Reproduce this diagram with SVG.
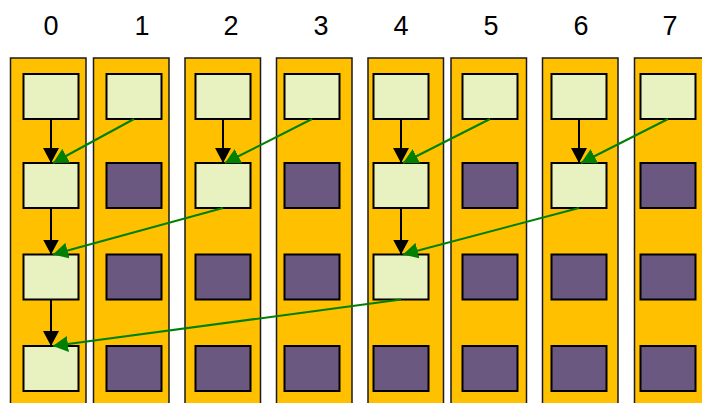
<svg xmlns="http://www.w3.org/2000/svg" width="702" height="403" viewBox="0 0 702 403">
  <style>
    .lane { fill: #FFC000; stroke: #1a1a1a; stroke-width: 1.5; }
    .active { fill: #E8F2C0; stroke: #000; stroke-width: 2; }
    .idle { fill: #6B5880; stroke: #000; stroke-width: 2; }
    .idx { font-family: "Liberation Sans", Arial, sans-serif; font-size: 27px; fill: #000; text-anchor: middle; }
    .seq { stroke: #000; stroke-width: 2; fill: none; }
    .red { stroke: #008000; stroke-width: 2; fill: none; }
  </style>
  <defs>
    <marker id="headBlack" markerUnits="userSpaceOnUse" markerWidth="16" markerHeight="16" viewBox="0 0 16 16" refX="15" refY="8" orient="auto">
      <path d="M0,0 L15,8 L0,16 Z" fill="#000"/>
    </marker>
    <marker id="headGreen" markerUnits="userSpaceOnUse" markerWidth="16" markerHeight="16" viewBox="0 0 16 16" refX="15" refY="8" orient="auto">
      <path d="M0,0 L15,8 L0,16 Z" fill="#008000"/>
    </marker>
  </defs>

  <!-- lane indices -->
  <g id="labels">
    <text class="idx" x="51" y="35">0</text>
    <text class="idx" x="142" y="35">1</text>
    <text class="idx" x="231" y="35">2</text>
    <text class="idx" x="321" y="35">3</text>
    <text class="idx" x="401" y="35">4</text>
    <text class="idx" x="491" y="35">5</text>
    <text class="idx" x="581" y="35">6</text>
    <text class="idx" x="670" y="35">7</text>
  </g>

  <!-- lanes with their four slots each -->
  <g id="lane0">
    <rect class="lane" x="10.5" y="58" width="75.5" height="360"/>
    <rect class="active" x="23.5" y="74" width="55" height="45"/>
    <rect class="active" x="23.5" y="163" width="55" height="45"/>
    <rect class="active" x="23.5" y="254.5" width="55" height="45"/>
    <rect class="active" x="23.5" y="346" width="55" height="45"/>
  </g>
  <g id="lane1">
    <rect class="lane" x="93.5" y="58" width="75.5" height="360"/>
    <rect class="active" x="106.5" y="74" width="55" height="45"/>
    <rect class="idle" x="106.5" y="163" width="55" height="45"/>
    <rect class="idle" x="106.5" y="254.5" width="55" height="45"/>
    <rect class="idle" x="106.5" y="346" width="55" height="45"/>
  </g>
  <g id="lane2">
    <rect class="lane" x="185" y="58" width="75.5" height="360"/>
    <rect class="active" x="195.5" y="74" width="55" height="45"/>
    <rect class="active" x="195.5" y="163" width="55" height="45"/>
    <rect class="idle" x="195.5" y="254.5" width="55" height="45"/>
    <rect class="idle" x="195.5" y="346" width="55" height="45"/>
  </g>
  <g id="lane3">
    <rect class="lane" x="276.5" y="58" width="75.5" height="360"/>
    <rect class="active" x="284.5" y="74" width="55" height="45"/>
    <rect class="idle" x="284.5" y="163" width="55" height="45"/>
    <rect class="idle" x="284.5" y="254.5" width="55" height="45"/>
    <rect class="idle" x="284.5" y="346" width="55" height="45"/>
  </g>
  <g id="lane4">
    <rect class="lane" x="368" y="58" width="75.5" height="360"/>
    <rect class="active" x="373.5" y="74" width="55" height="45"/>
    <rect class="active" x="373.5" y="163" width="55" height="45"/>
    <rect class="active" x="373.5" y="254.5" width="55" height="45"/>
    <rect class="idle" x="373.5" y="346" width="55" height="45"/>
  </g>
  <g id="lane5">
    <rect class="lane" x="451" y="58" width="75.5" height="360"/>
    <rect class="active" x="462.5" y="74" width="55" height="45"/>
    <rect class="idle" x="462.5" y="163" width="55" height="45"/>
    <rect class="idle" x="462.5" y="254.5" width="55" height="45"/>
    <rect class="idle" x="462.5" y="346" width="55" height="45"/>
  </g>
  <g id="lane6">
    <rect class="lane" x="542.5" y="58" width="75.5" height="360"/>
    <rect class="active" x="551.5" y="74" width="55" height="45"/>
    <rect class="active" x="551.5" y="163" width="55" height="45"/>
    <rect class="idle" x="551.5" y="254.5" width="55" height="45"/>
    <rect class="idle" x="551.5" y="346" width="55" height="45"/>
  </g>
  <g id="lane7">
    <rect class="lane" x="634.5" y="58" width="75.5" height="360"/>
    <rect class="active" x="640.5" y="74" width="55" height="45"/>
    <rect class="idle" x="640.5" y="163" width="55" height="45"/>
    <rect class="idle" x="640.5" y="254.5" width="55" height="45"/>
    <rect class="idle" x="640.5" y="346" width="55" height="45"/>
  </g>

  <!-- reduction steps -->
  <g id="connectors">
    <line class="seq" x1="51" y1="119" x2="51" y2="163" marker-end="url(#headBlack)"/>
    <line class="seq" x1="51" y1="208" x2="51" y2="254.5" marker-end="url(#headBlack)"/>
    <line class="seq" x1="51" y1="299.5" x2="51" y2="346" marker-end="url(#headBlack)"/>
    <line class="seq" x1="223" y1="119" x2="223" y2="163" marker-end="url(#headBlack)"/>
    <line class="seq" x1="401" y1="119" x2="401" y2="163" marker-end="url(#headBlack)"/>
    <line class="seq" x1="401" y1="208" x2="401" y2="254.5" marker-end="url(#headBlack)"/>
    <line class="seq" x1="579" y1="119" x2="579" y2="163" marker-end="url(#headBlack)"/>

    <line class="red" x1="134" y1="119" x2="53" y2="163" marker-end="url(#headGreen)"/>
    <line class="red" x1="312" y1="119" x2="225" y2="163" marker-end="url(#headGreen)"/>
    <line class="red" x1="490" y1="119" x2="403" y2="163" marker-end="url(#headGreen)"/>
    <line class="red" x1="668" y1="119" x2="581" y2="163" marker-end="url(#headGreen)"/>
    <line class="red" x1="223" y1="208" x2="53" y2="254.5" marker-end="url(#headGreen)"/>
    <line class="red" x1="579" y1="208" x2="403" y2="254.5" marker-end="url(#headGreen)"/>
    <line class="red" x1="401" y1="299.5" x2="53" y2="346" marker-end="url(#headGreen)"/>
  </g>
</svg>
